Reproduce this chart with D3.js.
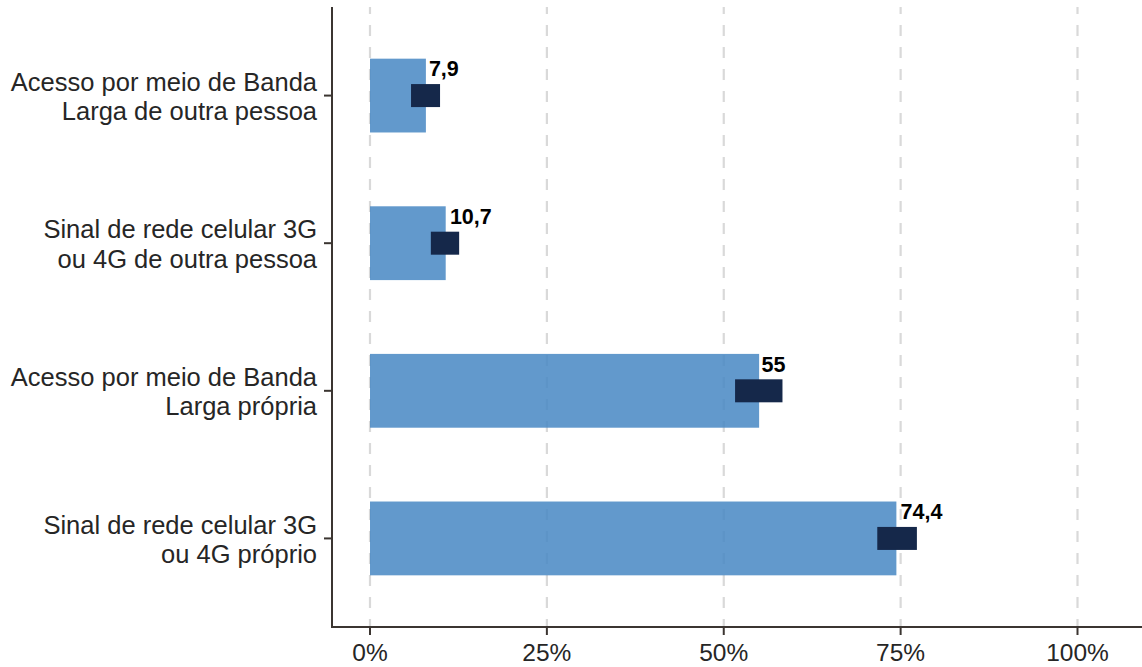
<!DOCTYPE html>
<html>
<head>
<meta charset="utf-8">
<script src="https://cdn.jsdelivr.net/npm/d3@7"></script>
<style>
  html, body { margin: 0; padding: 0; background: #ffffff; }
  svg { display: block; }
</style>
</head>
<body>
<svg id="chart" width="1142" height="667"></svg>
<script>
// ---- data ----
const categories = [
  ["Acesso por meio de Banda", "Larga de outra pessoa"],
  ["Sinal de rede celular 3G", "ou 4G de outra pessoa"],
  ["Acesso por meio de Banda", "Larga própria"],
  ["Sinal de rede celular 3G", "ou 4G próprio"]
];
const values = [7.9, 10.7, 55, 74.4];
const lower = [5.8, 8.6, 51.6, 71.7];
const upper = [9.9, 12.6, 58.3, 77.3];
const xTicks = [0, 25, 50, 75, 100];

// ---- layout ----
const svg = d3.select("#chart");
const font = "'Liberation Sans', Arial, Helvetica, sans-serif";
const axisLeft = 332, axisBottom = 627, plotTop = 7, plotRight = 1142;

const x = d3.scaleLinear().domain([0, 100]).range([370, 1077.5]);
const y = d3.scaleBand()
  .domain(d3.range(categories.length))
  .range([plotTop, axisBottom])
  .paddingInner(0.5)
  .paddingOuter(0.35);

const fmt = v => String(v).replace(".", ",");

// gridlines
svg.append("g").selectAll("line").data(xTicks).join("line")
  .attr("x1", d => x(d)).attr("x2", d => x(d))
  .attr("y1", plotTop).attr("y2", axisBottom)
  .attr("stroke", "#d9d9d9")
  .attr("stroke-width", 2.2)
  .attr("stroke-dasharray", "11,11")
  .attr("stroke-dashoffset", 4);

// bars
svg.append("g").selectAll("rect").data(values).join("rect")
  .attr("x", x(0))
  .attr("y", (d, i) => y(i))
  .attr("width", d => x(d) - x(0))
  .attr("height", y.bandwidth())
  .attr("fill", "rgb(71,135,195)")
  .attr("fill-opacity", 0.85);

// confidence interval rects
const ciH = 23;
svg.append("g").selectAll("rect").data(values).join("rect")
  .attr("x", (d, i) => x(lower[i]))
  .attr("y", (d, i) => y(i) + y.bandwidth() / 2 - ciH / 2)
  .attr("width", (d, i) => x(upper[i]) - x(lower[i]))
  .attr("height", ciH)
  .attr("fill", "#15284a");

// value labels
svg.append("g").selectAll("text").data(values).join("text")
  .attr("y", (d, i) => y(i) + 17.7)
  .attr("font-family", font)
  .attr("font-size", 21.5)
  .attr("font-weight", "bold")
  .attr("fill", "#000")
  .text(d => fmt(d))
  .each(function(d) {
    const w = this.getComputedTextLength();
    d3.select(this).attr("x", x(d) + 0.1 * w);
  });

// y axis
svg.append("line")
  .attr("x1", axisLeft).attr("x2", axisLeft)
  .attr("y1", plotTop).attr("y2", axisBottom + 1)
  .attr("stroke", "#3b3531").attr("stroke-width", 2);
svg.append("g").selectAll("line").data(categories).join("line")
  .attr("x1", axisLeft - 8).attr("x2", axisLeft)
  .attr("y1", (d, i) => y(i) + y.bandwidth() / 2)
  .attr("y2", (d, i) => y(i) + y.bandwidth() / 2)
  .attr("stroke", "#3b3531").attr("stroke-width", 2);

const yl = svg.append("g").selectAll("text").data(categories).join("text")
  .attr("font-family", font)
  .attr("font-size", 25.5)
  .attr("fill", "#262626")
  .attr("text-anchor", "end");
yl.each(function(lines, i) {
  const c = y(i) + y.bandwidth() / 2;
  const t = d3.select(this);
  t.append("tspan").attr("x", 317).attr("y", c - 4.8).text(lines[0]);
  t.append("tspan").attr("x", 317).attr("y", c + 24.5).text(lines[1]);
});

// x axis
svg.append("line")
  .attr("x1", axisLeft - 1).attr("x2", plotRight)
  .attr("y1", axisBottom).attr("y2", axisBottom)
  .attr("stroke", "#3b3531").attr("stroke-width", 2);
svg.append("g").selectAll("line").data(xTicks).join("line")
  .attr("x1", d => x(d)).attr("x2", d => x(d))
  .attr("y1", axisBottom).attr("y2", axisBottom + 8)
  .attr("stroke", "#3b3531").attr("stroke-width", 2);
svg.append("g").selectAll("text").data(xTicks).join("text")
  .attr("x", d => x(d))
  .attr("y", 661)
  .attr("font-family", font)
  .attr("font-size", 24.5)
  .attr("fill", "#262626")
  .attr("text-anchor", "middle")
  .text(d => d + "%");
</script>
</body>
</html>
